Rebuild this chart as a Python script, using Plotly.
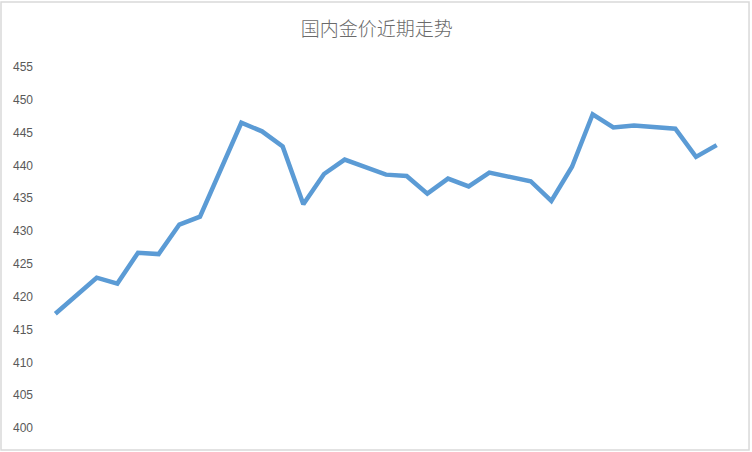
import plotly.graph_objects as go

title = "国内金价近期走势"

# one value per day
days = list(range(1, 34))
prices = [
    417.4, 420.1, 422.9, 422.0, 426.7, 426.5, 431.0, 432.2, 439.4, 446.5,
    445.2, 442.9, 434.1, 438.7, 440.9, 439.8, 438.6, 438.4, 435.7, 438.0,
    436.8, 438.9, 438.2, 437.6, 434.6, 439.8, 447.8, 445.8, 446.1, 445.9,
    445.6, 441.3, 443.1,
]
y_ticks = list(range(400, 456, 5))

fig = go.Figure()

fig.add_trace(
    go.Scatter(
        x=days,
        y=prices,
        mode="lines",
        line=dict(color="#5B9BD5", width=4.5),
        hovertemplate="%{y:.1f}<extra></extra>",
    )
)

# light grey frame round the whole chart
fig.add_shape(
    type="rect",
    xref="paper", yref="paper",
    x0=-0.0645, x1=1.0323, y0=-0.0609, y1=1.180,
    line=dict(color="#D9D9D9", width=1.5),
    fillcolor="rgba(0,0,0,0)",
    layer="below",
)

fig.update_layout(
    width=752,
    height=452,
    margin=dict(l=45, r=25, t=67, b=24),
    paper_bgcolor="white",
    plot_bgcolor="white",
    showlegend=False,
    title=dict(
        text=title,
        x=0.501,
        xanchor="center",
        y=0.934,
        yanchor="middle",
        font=dict(family="Noto Sans CJK SC", size=19, color="#6A6A6A", weight=300),
    ),
    xaxis=dict(
        range=[0.5, 33.5],
        showgrid=False,
        zeroline=False,
        showline=False,
        showticklabels=False,
        ticks="",
    ),
    yaxis=dict(
        range=[400, 455],
        tickvals=y_ticks,
        showgrid=False,
        zeroline=False,
        showline=False,
        ticks="",
        ticklabelstandoff=11,
        tickfont=dict(family="Liberation Sans", size=12, color="#595959"),
    ),
)

# page body has an 8px margin by default; drop it so the chart sits at 0,0
fig.write_html(
    "out.html",
    config={"displayModeBar": False},
    post_script="document.body.style.margin='0';",
)
